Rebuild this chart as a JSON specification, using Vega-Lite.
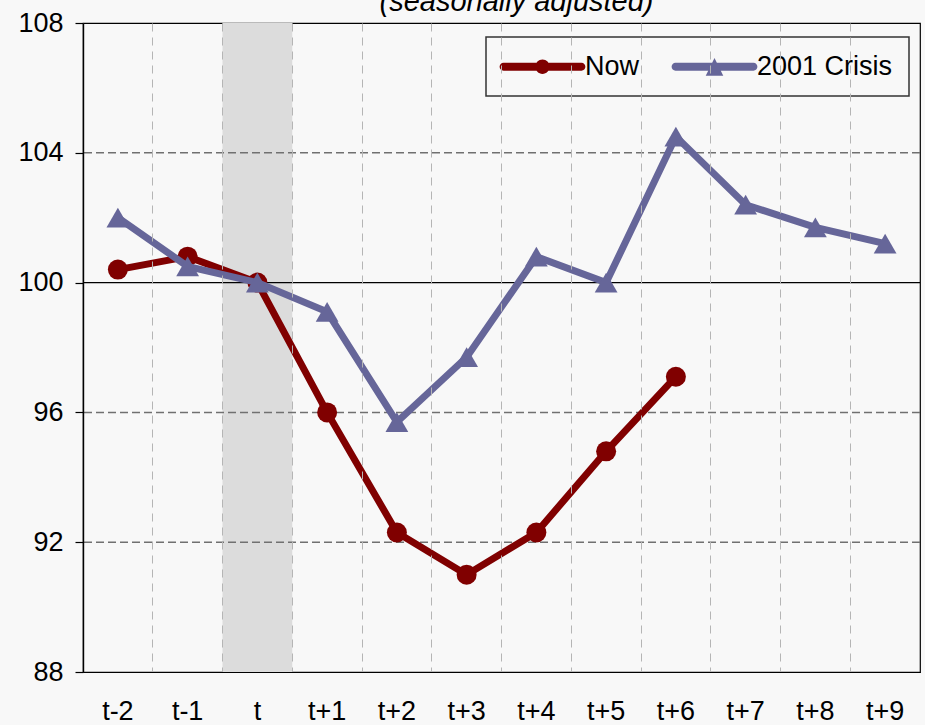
{
  "$schema": "https://vega.github.io/schema/vega-lite/v6.json",
  "width": 837,
  "height": 649,
  "autosize": {"type": "none"},
  "padding": {"left": 83, "top": 23, "right": 5, "bottom": 53},
  "background": "#f8f8f8",
  "config": {
    "font": "Liberation Sans",
    "view": {"stroke": "black", "strokeWidth": 1.2, "fill": "#f8f8f8"},
    "legend": {"strokeWidth": 1.5}
  },
  "title": {
    "text": "(seasonally adjusted)",
    "fontStyle": "italic",
    "fontWeight": "normal",
    "fontSize": 29,
    "font": "Liberation Sans",
    "color": "black",
    "anchor": "middle",
    "baseline": "top",
    "offset": 14,
    "dx": 15,
    "dy": 22
  },
  "datasets": {
    "main": [
      {"period": "t-2", "series": "Now", "value": 100.4},
      {"period": "t-1", "series": "Now", "value": 100.8},
      {"period": "t", "series": "Now", "value": 100.0},
      {"period": "t+1", "series": "Now", "value": 96.0},
      {"period": "t+2", "series": "Now", "value": 92.3},
      {"period": "t+3", "series": "Now", "value": 91.0},
      {"period": "t+4", "series": "Now", "value": 92.3},
      {"period": "t+5", "series": "Now", "value": 94.8},
      {"period": "t+6", "series": "Now", "value": 97.1},
      {"period": "t-2", "series": "2001 Crisis", "value": 102.0},
      {"period": "t-1", "series": "2001 Crisis", "value": 100.5},
      {"period": "t", "series": "2001 Crisis", "value": 100.0},
      {"period": "t+1", "series": "2001 Crisis", "value": 99.1},
      {"period": "t+2", "series": "2001 Crisis", "value": 95.7},
      {"period": "t+3", "series": "2001 Crisis", "value": 97.7},
      {"period": "t+4", "series": "2001 Crisis", "value": 100.8},
      {"period": "t+5", "series": "2001 Crisis", "value": 100.0},
      {"period": "t+6", "series": "2001 Crisis", "value": 104.5},
      {"period": "t+7", "series": "2001 Crisis", "value": 102.4},
      {"period": "t+8", "series": "2001 Crisis", "value": 101.7},
      {"period": "t+9", "series": "2001 Crisis", "value": 101.2}
    ],
    "shade": [{"period": "t"}],
    "dashedLevels": [{"level": 104}, {"level": 96}, {"level": 92}],
    "solidLevels": [{"level": 100}]
  },
  "layer": [
    {
      "data": {"name": "shade"},
      "mark": {"type": "rect", "color": "#dcdcdc"},
      "encoding": {
        "x": {
          "field": "period",
          "type": "nominal",
          "sort": null,
          "scale": {
            "type": "band",
            "domain": ["t-2", "t-1", "t", "t+1", "t+2", "t+3", "t+4", "t+5", "t+6", "t+7", "t+8", "t+9"],
            "paddingInner": 0,
            "paddingOuter": 0
          },
          "axis": {
            "title": null,
            "labelAngle": 0,
            "labelFontSize": 27,
            "labelColor": "black",
            "labelPadding": 26,
            "ticks": false,
            "domain": true,
            "domainColor": "black",
            "domainWidth": 1.2,
            "grid": true,
            "bandPosition": 0,
            "gridColor": "#b5b5b5",
            "gridDash": [8, 6],
            "gridWidth": 1
          }
        }
      }
    },
    {
      "data": {"name": "dashedLevels"},
      "mark": {"type": "rule", "color": "#707070", "strokeWidth": 1.5, "strokeDash": [8, 4]},
      "encoding": {
        "y": {
          "field": "level",
          "type": "quantitative",
          "scale": {"domain": [88, 108], "nice": false, "zero": false},
          "axis": {
            "title": null,
            "values": [88, 92, 96, 100, 104, 108],
            "labelFontSize": 27,
            "labelColor": "black",
            "labelPadding": 12,
            "tickSize": 8,
            "tickColor": "black",
            "tickWidth": 1.2,
            "domainColor": "black",
            "domainWidth": 1.4,
            "grid": false,
            "zindex": 1
          }
        }
      }
    },
    {
      "data": {"name": "solidLevels"},
      "mark": {"type": "rule", "color": "black", "strokeWidth": 1.3},
      "encoding": {
        "y": {"field": "level", "type": "quantitative"}
      }
    },
    {
      "data": {"name": "main"},
      "transform": [{"filter": "datum.series === 'Now'"}],
      "mark": {
        "type": "line",
        "color": "#800000",
        "strokeWidth": 7,
        "point": {"shape": "circle", "size": 400, "filled": true, "opacity": 1, "color": "#800000"}
      },
      "encoding": {
        "x": {"field": "period", "type": "nominal", "sort": null},
        "y": {"field": "value", "type": "quantitative"}
      }
    },
    {
      "data": {"name": "main"},
      "transform": [{"filter": "datum.series === '2001 Crisis'"}],
      "mark": {
        "type": "line",
        "color": "#666699",
        "strokeWidth": 7,
        "point": {"shape": "triangle-up", "size": 520, "filled": true, "opacity": 1, "color": "#666699"}
      },
      "encoding": {
        "x": {"field": "period", "type": "nominal", "sort": null},
        "y": {"field": "value", "type": "quantitative"}
      }
    },
    {
      "data": {"name": "main"},
      "mark": {"type": "point", "filled": true, "opacity": 0, "size": 169},
      "encoding": {
        "x": {"field": "period", "type": "nominal", "sort": null},
        "y": {"field": "value", "type": "quantitative"},
        "color": {
          "field": "series",
          "type": "nominal",
          "scale": {"domain": ["Now", "2001 Crisis"], "range": ["#800000", "#666699"]},
          "legend": {
            "title": null,
            "orient": "none",
            "legendX": 403,
            "legendY": 14,
            "direction": "horizontal",
            "labelFontSize": 27,
            "labelColor": "black",
            "labelFont": "Liberation Sans",
            "strokeColor": "#333333",
            "fillColor": "#f8f8f8",
            "padding": 16,
            "symbolSize": 169,
            "symbolOffset": 27,
            "labelOffset": 29,
            "columnPadding": 31,
            "symbolOpacity": 1,
            "symbolStrokeWidth": 0
          }
        },
        "shape": {
          "field": "series",
          "type": "nominal",
          "scale": {
            "domain": ["Now", "2001 Crisis"],
            "range": [
              "M-6,-0.6 L6,-0.6 A0.6,0.6 0 0 1 6,0.6 L-6,0.6 A0.6,0.6 0 0 1 -6,-0.6 Z M-1.1,0 A1.1,1.1 0 1 1 1.1,0 A1.1,1.1 0 1 1 -1.1,0 Z",
              "M-6,-0.6 L6,-0.6 A0.6,0.6 0 0 1 6,0.6 L-6,0.6 A0.6,0.6 0 0 1 -6,-0.6 Z M0,-1.35 L1.35,1.4 L-1.35,1.4 Z"
            ]
          },
          "legend": {
            "title": null,
            "orient": "none",
            "legendX": 403,
            "legendY": 14,
            "direction": "horizontal",
            "labelFontSize": 27,
            "labelColor": "black",
            "labelFont": "Liberation Sans",
            "strokeColor": "#333333",
            "fillColor": "#f8f8f8",
            "padding": 16,
            "symbolSize": 169,
            "symbolOffset": 27,
            "labelOffset": 29,
            "columnPadding": 31,
            "symbolOpacity": 1,
            "symbolStrokeWidth": 0
          }
        }
      }
    }
  ]
}
